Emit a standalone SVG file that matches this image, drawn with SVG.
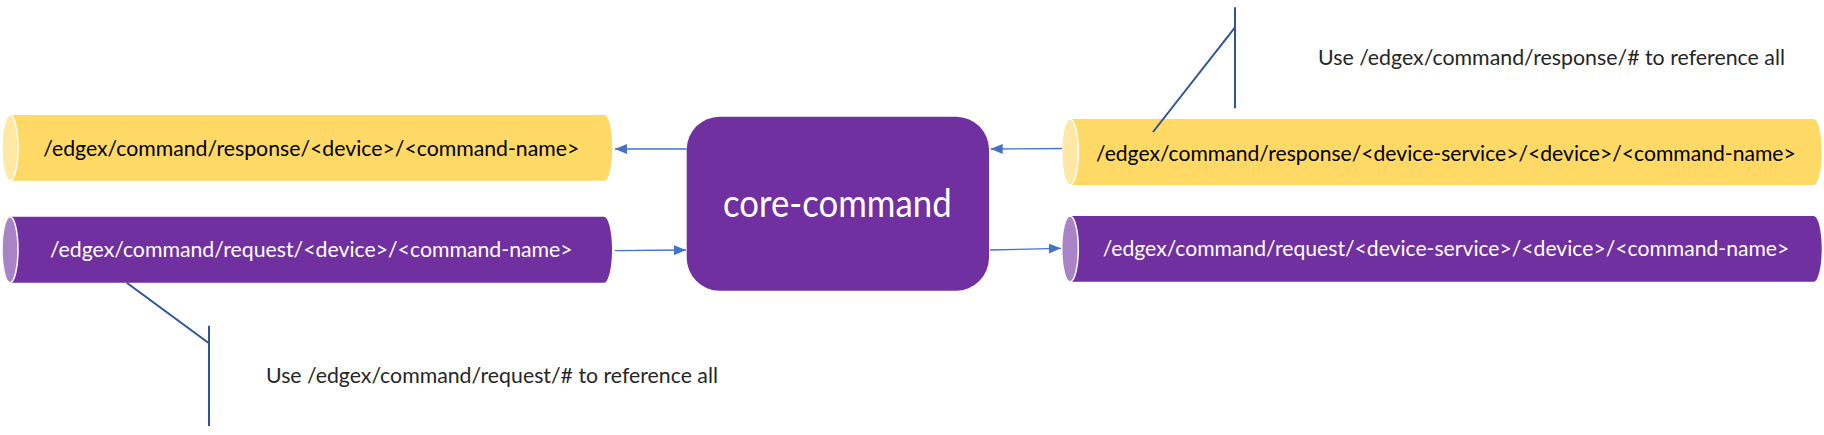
<svg xmlns="http://www.w3.org/2000/svg" width="1824" height="435" viewBox="0 0 1824 435">
<defs>
<marker id="ah" viewBox="0 0 12 10" refX="12" refY="5" markerWidth="12" markerHeight="10" markerUnits="userSpaceOnUse" orient="auto">
<path d="M0,0 L12,5 L0,10 z" fill="#4472C4"/>
</marker>
<style>
.ybody{fill:#FFD966}
.ycap{fill:#FFE8A3;stroke:#FFFFFF;stroke-width:1.5}
.pbody{fill:#7030A0}
.pcap{fill:#A983C6;stroke:#FFFFFF;stroke-width:1.5}
.t{font-family:Lato,"Liberation Sans",sans-serif;font-size:22px;text-anchor:middle}
.dark{fill:#000000}
.light{fill:#FFFFFF}
.ann{font-family:Lato,"Liberation Sans",sans-serif;font-size:20.5px;fill:#262626}
.conn{stroke:#4472C4;stroke-width:1.3;fill:none}
.cl{stroke:#2F5597;stroke-width:2;fill:none}
</style>
</defs>
<rect width="1824" height="435" fill="#FFFFFF"/>

<g id="resp-device">
<path class="ybody" d="M10,115 L604.7,115 A8,32.9 0 0 1 604.7,180.7 L10,180.7 Z"/>
<ellipse class="ycap" cx="10" cy="147.9" rx="8" ry="32.9"/>
<text class="t dark" x="311.3" y="155.5" textLength="536" lengthAdjust="spacingAndGlyphs">/edgex/command/response/&lt;device&gt;/&lt;command-name&gt;</text>
</g>

<g id="req-device">
<path class="pbody" d="M10,216.7 L604,216.7 A8,33 0 0 1 604,282.7 L10,282.7 Z"/>
<ellipse class="pcap" cx="10" cy="249.7" rx="8" ry="33"/>
<text class="t light" x="311.3" y="257" textLength="522.7" lengthAdjust="spacingAndGlyphs">/edgex/command/request/&lt;device&gt;/&lt;command-name&gt;</text>
</g>

<g id="core-command">
<rect x="686.7" y="116.7" width="302.3" height="174" rx="33" ry="33" fill="#7030A0"/>
<text x="837.3" y="217" font-family="Lato,'Liberation Sans',sans-serif" font-size="38" fill="#FFFFFF" text-anchor="middle" textLength="228.7" lengthAdjust="spacingAndGlyphs">core-command</text>
</g>

<g id="resp-service">
<path class="ybody" d="M1070,119 L1813.7,119 A8,33 0 0 1 1813.7,185 L1070,185 Z"/>
<ellipse class="ycap" cx="1070" cy="152" rx="8.3" ry="33"/>
<text class="t dark" x="1445.9" y="160.5" textLength="699.7" lengthAdjust="spacingAndGlyphs">/edgex/command/response/&lt;device-service&gt;/&lt;device&gt;/&lt;command-name&gt;</text>
</g>

<g id="req-service">
<path class="pbody" d="M1070,216 L1813.7,216 A8,32.85 0 0 1 1813.7,281.7 L1070,281.7 Z"/>
<ellipse class="pcap" cx="1070" cy="248.85" rx="8.3" ry="32.85"/>
<text class="t light" x="1446" y="255.5" textLength="686.6" lengthAdjust="spacingAndGlyphs">/edgex/command/request/&lt;device-service&gt;/&lt;device&gt;/&lt;command-name&gt;</text>
</g>

<g id="note-response">
<path class="cl" d="M1235,7.3 L1235,108.3"/>
<path class="cl" d="M1235,27.3 L1153,132"/>
<text class="ann" x="1318" y="65" textLength="467" lengthAdjust="spacingAndGlyphs">Use /edgex/command/response/# to reference all</text>
</g>

<g id="note-request">
<path class="cl" d="M126.7,282.7 L209,343.3"/>
<path class="cl" d="M209,325.7 L209,426"/>
<text class="ann" x="266" y="383.3" textLength="452" lengthAdjust="spacingAndGlyphs">Use /edgex/command/request/# to reference all</text>
</g>

<g id="connectors">
<path class="conn" d="M686.7,149 L615,149" marker-end="url(#ah)"/>
<path class="conn" d="M1062,148.5 L990.7,149" marker-end="url(#ah)"/>
<path class="conn" d="M615,250.7 L686,250" marker-end="url(#ah)"/>
<path class="conn" d="M990,250 L1061,248.3" marker-end="url(#ah)"/>
</g>
</svg>
